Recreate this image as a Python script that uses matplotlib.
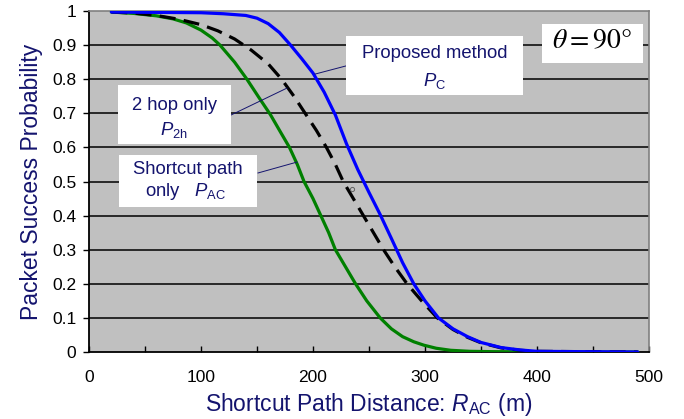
#!/usr/bin/env python3
"""Packet success probability vs shortcut path distance (theta = 90 deg)"""
import matplotlib
matplotlib.use("Agg")
import matplotlib.pyplot as plt
from matplotlib.patches import Rectangle

plt.rcParams['font.family'] = ['Liberation Sans', 'DejaVu Sans']
plt.rcParams['mathtext.fontset'] = 'custom'
plt.rcParams['mathtext.rm'] = 'Liberation Sans'
plt.rcParams['mathtext.it'] = 'Liberation Sans:italic'

# Proposed method P_C (blue)
pc_x = [20, 60, 100, 120, 140, 150, 160, 170, 180, 190, 200, 210, 220, 230,
        240, 250, 260, 270, 280, 290, 300, 312, 325, 338, 350, 368, 385, 400,
        440, 490]
pc_y = [0.997, 0.996, 0.995, 0.992, 0.987, 0.979, 0.963, 0.937, 0.9, 0.86,
        0.818, 0.762, 0.695, 0.61, 0.535, 0.468, 0.403, 0.333, 0.262, 0.2,
        0.15, 0.1, 0.068, 0.045, 0.028, 0.013, 0.006, 0.002, 0.001, 0.0]

# 2 hop only P_2h (black dashed)
p2h_x = [20, 40, 60, 80, 100, 115, 130, 145, 160, 172, 183, 193, 203, 212,
         220, 227, 236, 245, 254, 263, 273, 284, 297, 311, 325, 338, 350, 368,
         385, 400, 440, 490]
p2h_y = [0.997, 0.994, 0.987, 0.976, 0.96, 0.942, 0.918, 0.885, 0.845, 0.8,
         0.75, 0.7, 0.65, 0.6, 0.55, 0.5, 0.45, 0.4, 0.35, 0.3, 0.25, 0.2,
         0.15, 0.1, 0.066, 0.043, 0.027, 0.012, 0.005, 0.002, 0.001, 0.0]

# Shortcut path only P_AC (green)
pac_x = [20, 40, 60, 75, 87, 100, 110, 117, 130, 141, 152, 162, 171, 179,
         186, 192, 200, 207, 214, 220, 229, 238, 248, 260, 270, 280, 290, 299,
         310, 323, 340, 360, 420, 490]
pac_y = [0.997, 0.993, 0.986, 0.977, 0.965, 0.944, 0.921, 0.9, 0.85, 0.8,
         0.745, 0.696, 0.645, 0.6, 0.55, 0.5, 0.45, 0.4, 0.35, 0.3, 0.25, 0.2,
         0.15, 0.1, 0.068, 0.045, 0.03, 0.02, 0.011, 0.005, 0.002, 0.001,
         0.0, 0.0]

x_ticks = [0, 100, 200, 300, 400, 500]
y_ticks = [0, 0.1, 0.2, 0.3, 0.4, 0.5, 0.6, 0.7, 0.8, 0.9, 1]
y_ticklabels = ['0', '0.1', '0.2', '0.3', '0.4', '0.5', '0.6', '0.7', '0.8', '0.9', '1']

navy = '#14146e'

fig = plt.figure(figsize=(6.84, 4.19), dpi=100)
ax = fig.add_axes([0.1301, 0.1599, 0.8187, 0.8138])
ax.set_facecolor('#c0c0c0')

# horizontal grid lines
for yv in y_ticks[1:-1]:
    ax.axhline(yv, color='black', lw=1.1, zorder=1)

ax.plot(pac_x, pac_y, color='#008000', lw=2.3, zorder=3,
        solid_capstyle='round', solid_joinstyle='round')
ax.plot(p2h_x, p2h_y, color='black', lw=2.3, linestyle=(0, (5, 2.6)), zorder=4)
ax.plot(pc_x, pc_y, color='#0000ff', lw=2.3, zorder=5,
        solid_capstyle='round', solid_joinstyle='round')
# small stray marker in the original
ax.plot([235], [0.479], marker='o', ms=3, mfc='none', mec='#606060', mew=0.7, zorder=6)

ax.set_xlim(0, 500)
ax.set_ylim(0, 1)
ax.set_xticks(x_ticks)
ax.set_xticks(range(0, 501, 50), minor=True)
ax.set_yticks(y_ticks)
ax.set_yticklabels(y_ticklabels)
ax.tick_params(axis='x', which='both', direction='in', length=4, width=1,
               labelsize=12.5, pad=13)
ax.tick_params(axis='y', direction='out', length=4, width=1, labelsize=12.5, pad=5)

for side in ['top', 'right']:
    ax.spines[side].set_color('#808080')
    ax.spines[side].set_linewidth(1.2)
for side in ['left', 'bottom']:
    ax.spines[side].set_color('black')
    ax.spines[side].set_linewidth(1.3)

ax.set_xlabel(r'Shortcut Path Distance: $R_{\mathrm{AC}}$ (m)',
              fontsize=16.5, color=navy, labelpad=4)
ax.set_ylabel('Packet Success Probability', fontsize=16.5, color=navy, labelpad=7)

# annotation boxes
def box(x0, x1, y0, y1):
    ax.add_patch(Rectangle((x0, y0), x1 - x0, y1 - y0, facecolor='white',
                           edgecolor='none', zorder=7))

box(229.5, 387.5, 0.754, 0.927)
ax.text(308.5, 0.876, 'Proposed method', ha='center', va='center', fontsize=13.3,
        color=navy, zorder=8)
ax.text(308.5, 0.795, r'$P_{\mathrm{C}}$', ha='center', va='center', fontsize=13.3,
        color=navy, zorder=8)
ax.plot([229.5, 201.8], [0.839, 0.815], color=navy, lw=0.7, zorder=6)

box(25.6, 126.5, 0.609, 0.783)
ax.text(76, 0.724, '2 hop only', ha='center', va='center', fontsize=13.3,
        color=navy, zorder=8)
ax.text(76, 0.651, r'$P_{\mathrm{2h}}$', ha='center', va='center', fontsize=13.3,
        color=navy, zorder=8)
ax.plot([126.8, 176.8], [0.695, 0.774], color=navy, lw=0.7, zorder=6)

box(26.8, 149.7, 0.426, 0.578)
ax.text(88, 0.536, 'Shortcut path', ha='center', va='center', fontsize=13.3,
        color=navy, zorder=8)
ax.text(86, 0.470, r'only   $P_{\mathrm{AC}}$', ha='center', va='center',
        fontsize=13.3, color=navy, zorder=8)
ax.plot([150.9, 185.7], [0.525, 0.557], color=navy, lw=0.7, zorder=6)

box(404.2, 494.4, 0.847, 0.962)
ax.text(449, 0.912, r'$\theta = 90\degree$', ha='center', va='center', fontsize=20,
        color='black', math_fontfamily='stix', zorder=8)

fig.savefig('out.png', dpi=100)
plt.close(fig)
